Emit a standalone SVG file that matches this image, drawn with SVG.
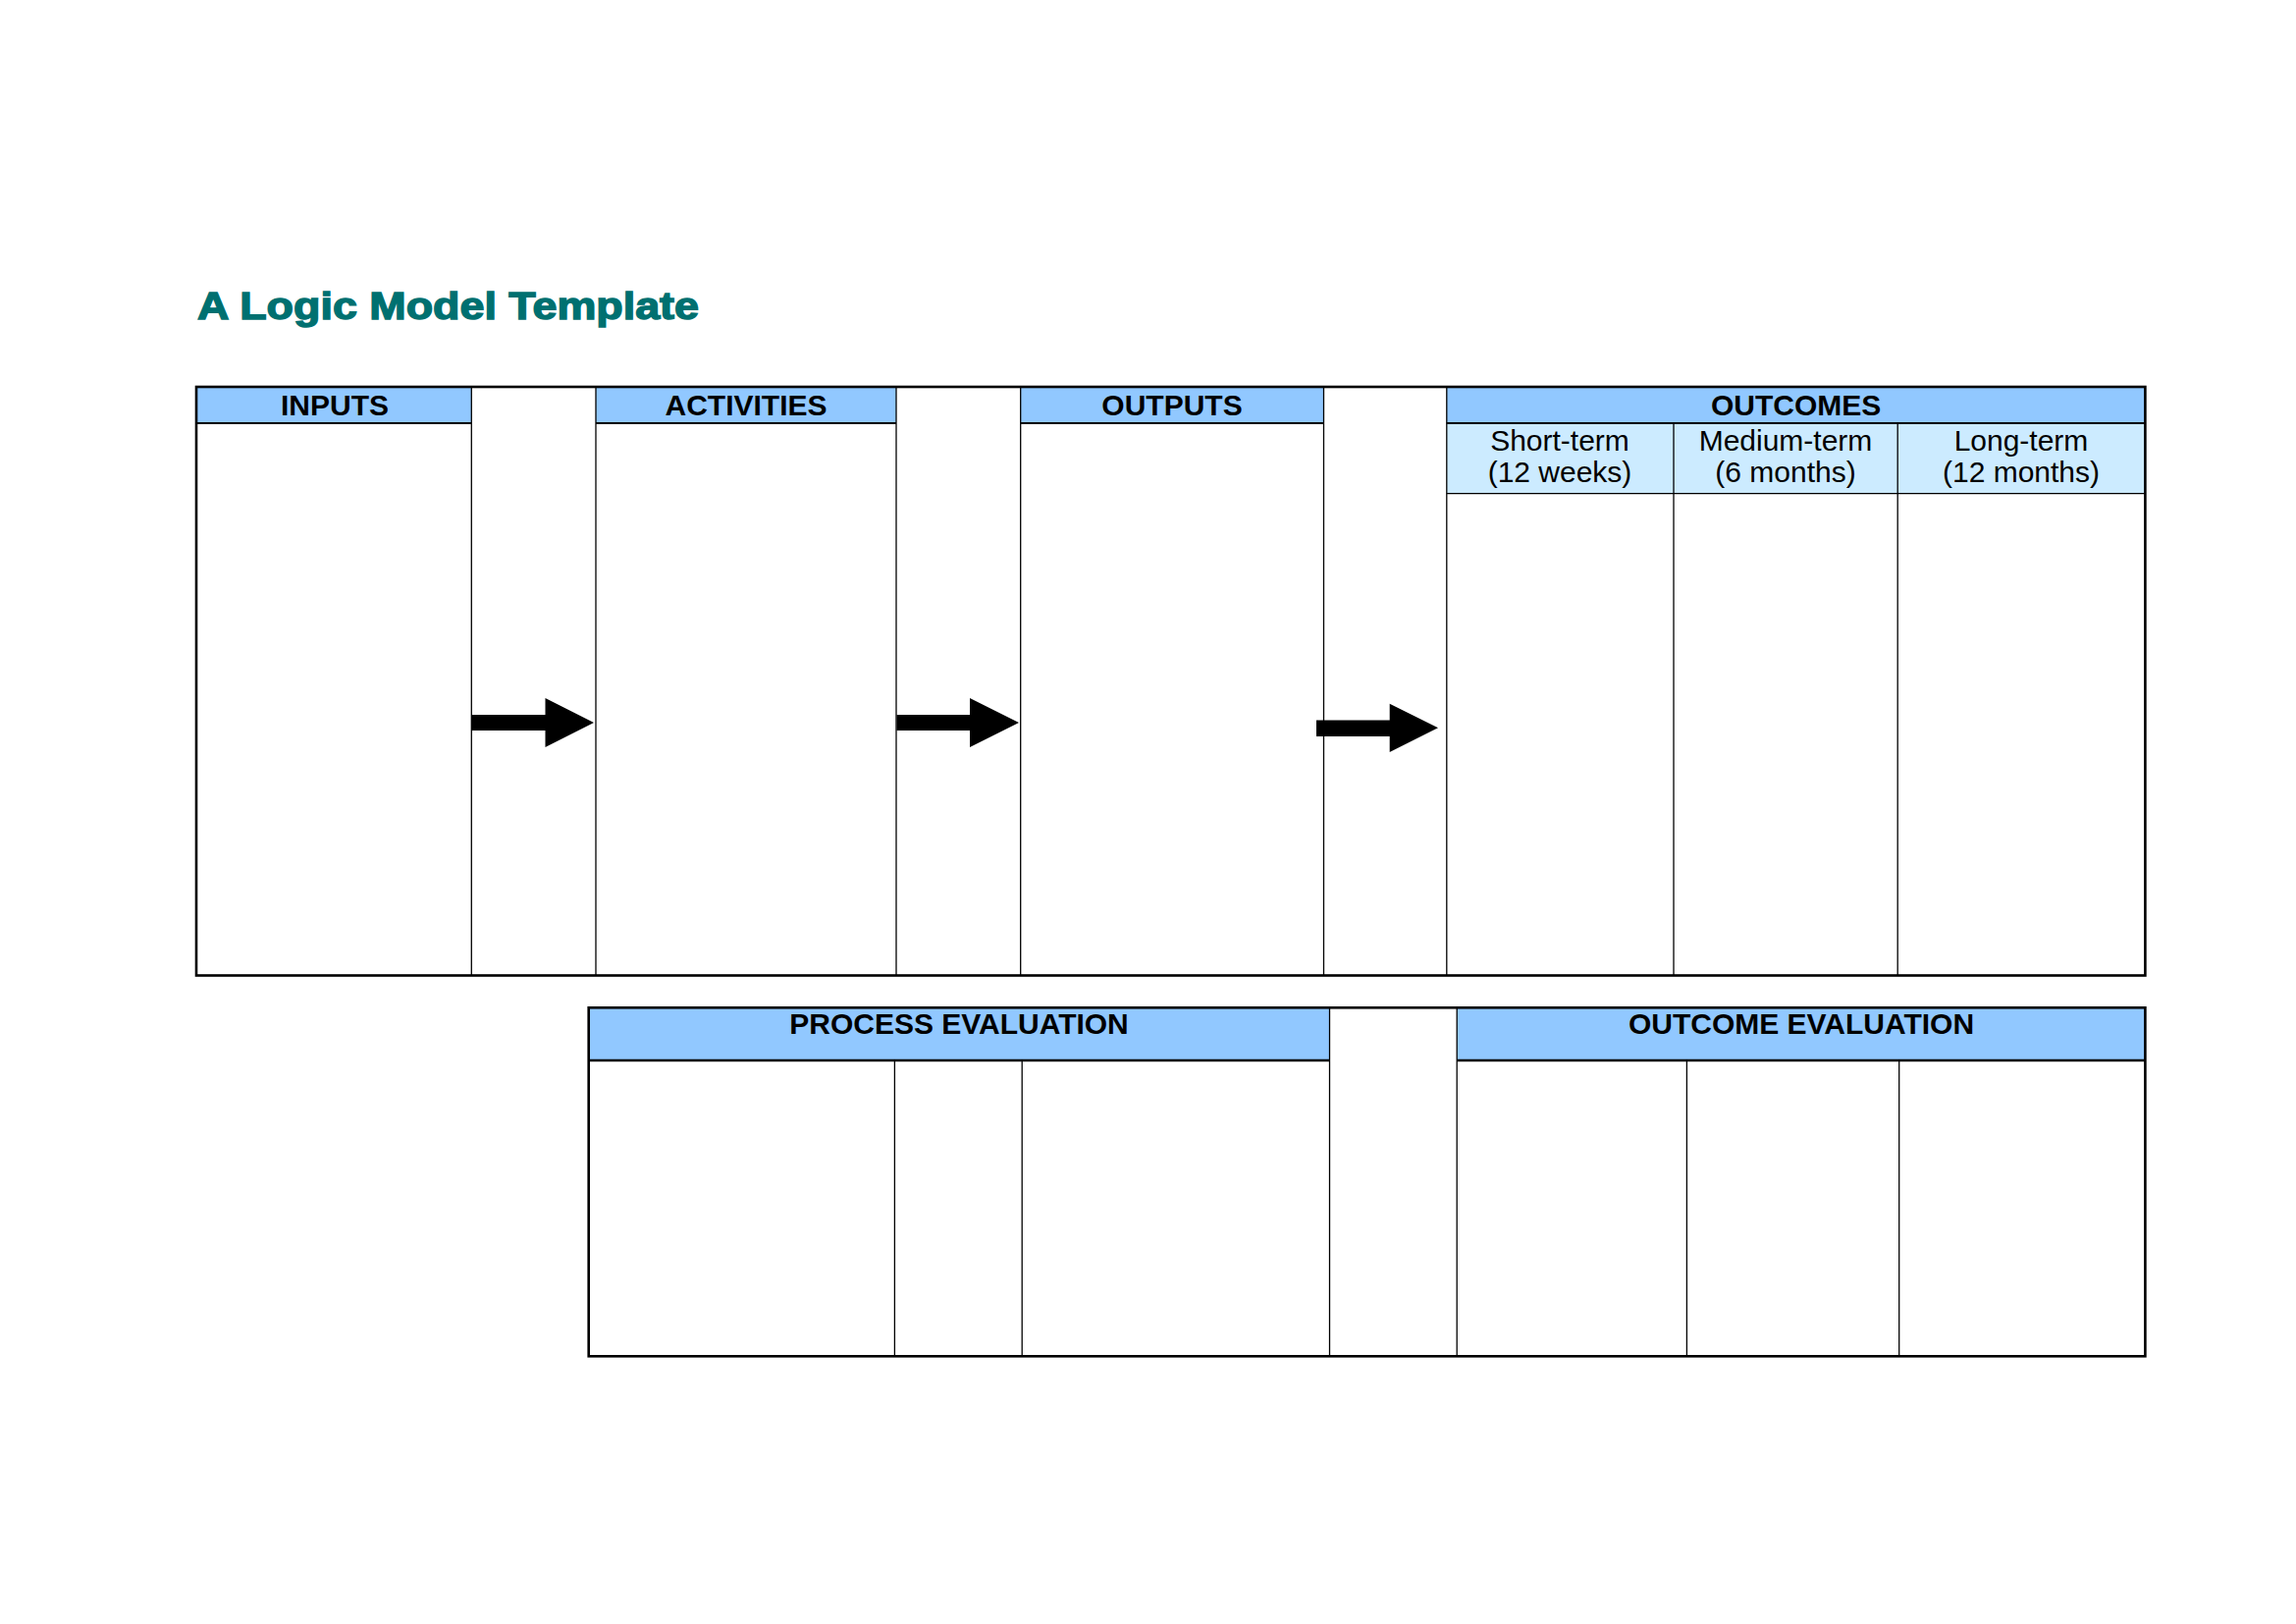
<svg xmlns="http://www.w3.org/2000/svg" width="2339" height="1654" viewBox="0 0 2339 1654">
<style>
.hdr{fill:#91C8FF}
.sub{fill:#CCEBFF}
.thick{stroke:#000;stroke-width:2.6;fill:none}
.thin{stroke:#000;stroke-width:1.3;fill:none}
.mid{stroke:#000;stroke-width:1.8;fill:none}
.ht{font-family:"Liberation Sans",Arial,sans-serif;font-weight:bold;font-size:30px;fill:#000;text-anchor:middle}
.st{font-family:"Liberation Sans",Arial,sans-serif;font-size:30px;fill:#000;text-anchor:middle}
.arrow{fill:#000}
</style>
<rect width="2339" height="1654" fill="#fff"/>
<g id="title">
<text x="201" y="325" font-family="Liberation Sans,Arial,sans-serif" font-weight="bold" font-size="39" fill="#007070" stroke="#007070" stroke-width="1.4" textLength="511" lengthAdjust="spacingAndGlyphs">A Logic Model Template</text>
</g>
<g id="logic-table">
<g id="inputs">
<rect class="hdr" x="200" y="394" width="280.3" height="37"/>
<line class="mid" x1="200" y1="431" x2="480.3" y2="431"/>
<text class="ht" x="341" y="423">INPUTS</text>
</g>
<g id="activities">
<rect class="hdr" x="607" y="394" width="306" height="37"/>
<line class="mid" x1="607" y1="431" x2="913" y2="431"/>
<text class="ht" x="760" y="423">ACTIVITIES</text>
</g>
<g id="outputs">
<rect class="hdr" x="1039.7" y="394" width="308.8" height="37"/>
<line class="mid" x1="1039.7" y1="431" x2="1348.5" y2="431"/>
<text class="ht" x="1194" y="423">OUTPUTS</text>
</g>
<g id="outcomes">
<rect class="hdr" x="1473.8" y="394" width="711.6" height="37"/>
<rect class="sub" x="1473.8" y="431" width="711.6" height="71.7"/>
<line class="mid" x1="1473.8" y1="431" x2="2185.4" y2="431"/>
<line class="thin" x1="1473.8" y1="502.7" x2="2185.4" y2="502.7"/>
<line class="thin" x1="1705" y1="431" x2="1705" y2="993.5"/>
<line class="thin" x1="1933.2" y1="431" x2="1933.2" y2="993.5"/>
<text class="ht" x="1829.6" y="423">OUTCOMES</text>
</g>
<g id="short-term">
<text class="st" x="1589" y="459">Short-term</text>
<text class="st" x="1589" y="491">(12 weeks)</text>
</g>
<g id="medium-term">
<text class="st" x="1819" y="459">Medium-term</text>
<text class="st" x="1819" y="491">(6 months)</text>
</g>
<g id="long-term">
<text class="st" x="2059" y="459">Long-term</text>
<text class="st" x="2059" y="491">(12 months)</text>
</g>
<line class="thin" x1="480.3" y1="394" x2="480.3" y2="993.5"/>
<line class="thin" x1="607" y1="394" x2="607" y2="993.5"/>
<line class="thin" x1="913" y1="394" x2="913" y2="993.5"/>
<line class="thin" x1="1039.7" y1="394" x2="1039.7" y2="993.5"/>
<line class="thin" x1="1348.5" y1="394" x2="1348.5" y2="993.5"/>
<line class="thin" x1="1473.8" y1="394" x2="1473.8" y2="993.5"/>
<rect class="thick" x="200" y="394" width="1985.4" height="599.5"/>
</g>
<g id="evaluation-table">
<g id="process-evaluation">
<rect class="hdr" x="599.7" y="1026.3" width="754.8" height="53.7"/>
<line class="thick" x1="599.7" y1="1080" x2="1354.5" y2="1080"/>
<line class="thin" x1="911.4" y1="1080" x2="911.4" y2="1381.3"/>
<line class="thin" x1="1041.2" y1="1080" x2="1041.2" y2="1381.3"/>
<text class="ht" x="977" y="1053">PROCESS EVALUATION</text>
</g>
<g id="outcome-evaluation">
<rect class="hdr" x="1484.2" y="1026.3" width="701.2" height="53.7"/>
<line class="thick" x1="1484.2" y1="1080" x2="2185.4" y2="1080"/>
<line class="thin" x1="1718.4" y1="1080" x2="1718.4" y2="1381.3"/>
<line class="thin" x1="1934.7" y1="1080" x2="1934.7" y2="1381.3"/>
<text class="ht" x="1835" y="1053">OUTCOME EVALUATION</text>
</g>
<line class="thin" x1="1354.5" y1="1026.3" x2="1354.5" y2="1381.3"/>
<line class="thin" x1="1484.2" y1="1026.3" x2="1484.2" y2="1381.3"/>
<rect class="thick" x="599.7" y="1026.3" width="1585.7" height="355"/>
</g>
<g id="connectors">
<polygon class="arrow" points="480,728 555.5,728 555.5,711 605,736 555.5,761 555.5,744 480,744"/>
<polygon class="arrow" points="913.5,728 988,728 988,711 1038,736 988,761 988,744 913.5,744"/>
<polygon class="arrow" points="1341,733.5 1415.7,733.5 1415.7,716.7 1465,741.3 1415.7,766 1415.7,750 1341,750"/>
</g>
</svg>
